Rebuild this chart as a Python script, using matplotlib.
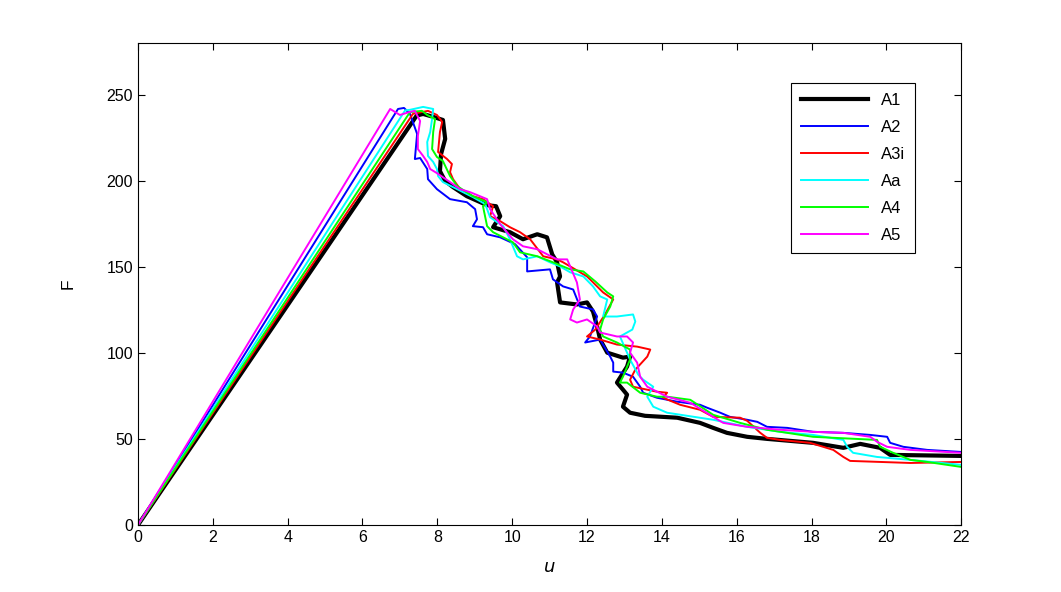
import matplotlib
matplotlib.use('Agg')
import matplotlib.pyplot as plt

plt.rcParams['font.family'] = ['Liberation Sans', 'DejaVu Sans']

# displacement u and force F for each specimen
u_A1 = [0, 7.45, 7.62, 7.89, 8.15, 8.21, 8.10, 8.07, 8.21, 8.42, 8.79, 9.33, 9.57, 9.68, 9.49,
        9.94, 10.29, 10.67, 10.93, 11.07, 11.20, 11.28, 11.20, 11.28, 11.73, 12.00, 12.16,
        12.27, 12.35, 12.54, 12.96, 13.15, 13.07, 12.80, 12.96, 13.07, 12.96, 13.15, 13.55,
        14.41, 15.02, 15.37, 15.74, 16.28, 16.81, 18.04, 18.85, 19.30, 19.83, 20.10, 22.0]
F_A1 = [0, 238, 238.9, 237.2, 235.4, 224.4, 215.6, 205.7, 199.9, 196.4, 191.1, 185.9, 185.3,
        179.5, 173.1, 170.2, 166.1, 169.0, 167.2, 157.3, 152.7, 144.5, 141.0, 129.4, 128.2,
        129.4, 124.1, 115.4, 107.8, 100.2, 97.3, 97.9, 92.1, 82.8, 78.7, 75.8, 68.8, 65.3,
        63.5, 62.4, 59.4, 56.5, 53.6, 51.3, 50.1, 47.8, 44.9, 47.2, 44.9, 40.8, 40.2]

u_A2 = [0, 6.95, 7.11, 7.27, 7.46, 7.40, 7.54, 7.73, 7.75, 7.99, 8.34, 8.79, 9.01, 9.06, 8.95,
        9.22, 9.33, 9.68, 10.08, 10.40, 10.40, 11.01, 11.09, 11.36, 11.63, 11.81, 12.16, 12.27,
        12.08, 11.95, 12.35, 12.62, 12.70, 12.70, 12.96, 13.23, 13.42, 13.50, 13.87, 14.41,
        15.02, 15.21, 15.56, 15.82, 16.28, 16.55, 16.81, 17.35, 18.04, 18.85, 19.57, 20.02,
        20.10, 20.45, 21.09, 22.0]
F_A2 = [0, 241.8, 242.4, 238.9, 227.3, 212.7, 213.3, 206.9, 201.0, 195.2, 189.4, 187.6, 183.6,
        177.7, 173.7, 173.1, 169.0, 167.2, 163.2, 155.6, 147.4, 148.6, 142.8, 138.7, 136.9,
        127.0, 125.3, 121.2, 109.6, 106.1, 107.8, 97.9, 94.4, 89.2, 88.6, 86.2, 80.4, 76.9,
        74.0, 71.7, 69.9, 68.2, 65.3, 62.9, 61.2, 60.0, 57.1, 56.5, 54.2, 53.6, 52.4, 51.3,
        47.8, 45.5, 43.7, 42.5]

u_A3i = [0, 7.35, 7.75, 7.99, 8.13, 8.07, 8.02, 8.26, 8.39, 8.34, 8.42, 8.61, 8.95, 9.22, 9.49,
         9.41, 9.68, 9.94, 10.21, 10.48, 10.83, 11.20, 11.36, 11.55, 12.00, 12.08, 12.43, 12.70,
         12.48, 12.22, 12.00, 12.35, 12.80, 13.34, 13.69, 13.61, 13.29, 13.15, 13.23, 13.87,
         14.14, 14.03, 14.49, 15.02, 15.37, 16.09, 16.28, 16.63, 16.81, 17.16, 17.96, 18.31,
         18.58, 18.85, 19.03, 20.64, 22.0]
F_A3i = [0, 239, 240.7, 238.3, 234.3, 228.4, 216.8, 212.7, 209.8, 205.1, 201.0, 195.2, 191.1,
         189.4, 185.3, 179.5, 176.6, 173.1, 170.2, 166.1, 156.2, 154.4, 152.7, 150.3, 144.5,
         142.8, 135.2, 131.1, 122.4, 113.6, 109.6, 107.8, 104.9, 103.7, 102.0, 97.9, 90.3,
         84.5, 80.4, 77.5, 76.9, 74.0, 69.9, 67.0, 62.9, 62.4, 60.6, 53.6, 50.7, 49.5, 47.8,
         45.5, 43.7, 39.6, 37.3, 36.1, 36.7]

u_Aa = [0, 7.14, 7.27, 7.62, 7.89, 7.86, 7.81, 7.73, 7.75, 7.89, 7.99, 8.02, 8.15, 8.53, 8.95,
        9.28, 9.41, 9.60, 9.76, 9.94, 10.13, 10.29, 10.67, 11.01, 11.28, 11.55, 11.90, 12.16,
        12.35, 12.54, 12.43, 12.80, 13.23, 13.29, 13.21, 12.88, 13.15, 13.37, 13.50, 13.77,
        13.61, 13.77, 14.14, 15.37, 16.28, 17.16, 18.04, 18.85, 18.95, 19.11, 19.75, 20.64, 22.0]
F_Aa = [0, 241, 241.3, 243.0, 241.8, 236.0, 228.4, 222.6, 214.5, 211.0, 206.9, 202.8, 199.3,
        195.2, 190.6, 186.5, 178.9, 176.0, 173.7, 166.1, 156.2, 154.4, 156.2, 152.7, 150.3,
        146.9, 144.5, 138.7, 132.9, 131.1, 121.2, 121.2, 122.4, 118.3, 113.6, 109.6, 96.2,
        87.4, 84.5, 80.4, 74.6, 68.8, 65.3, 61.2, 57.1, 54.2, 52.4, 49.5, 45.5, 42.0, 39.6,
        37.9, 35.0]

u_A4 = [0, 7.27, 7.59, 7.73, 7.94, 7.89, 7.86, 7.99, 8.15, 8.34, 8.53, 8.95, 9.33, 9.22, 9.33,
        9.49, 10.02, 10.21, 10.67, 11.09, 11.55, 11.90, 12.22, 12.54, 12.70, 12.62, 12.43,
        12.35, 12.43, 12.80, 13.15, 13.15, 12.96, 12.88, 13.07, 13.42, 13.87, 14.14, 14.76,
        15.37, 16.09, 16.81, 18.04, 19.75, 19.83, 20.18, 20.64, 21.09, 22.0]
F_A4 = [0, 240, 240.7, 238.3, 236.0, 228.4, 218.5, 213.9, 211.5, 202.8, 197.0, 191.1, 187.6,
        185.3, 173.7, 170.2, 164.3, 158.5, 156.2, 152.7, 148.6, 147.4, 141.6, 135.2, 132.9,
        127.0, 119.5, 113.6, 109.6, 106.1, 102.0, 96.2, 86.2, 82.8, 82.8, 76.9, 74.6, 74.6,
        72.8, 64.1, 59.4, 55.4, 51.3, 49.5, 45.5, 42.0, 37.9, 36.7, 33.8]

u_A5 = [0, 6.74, 7.00, 7.27, 7.40, 7.54, 7.48, 7.48, 7.62, 7.73, 7.81, 7.99, 8.34, 8.61, 8.87,
        9.14, 9.33, 9.41, 9.68, 10.02, 10.29, 10.67, 11.20, 11.47, 11.55, 11.73, 11.81, 11.63,
        11.55, 11.73, 12.00, 12.27, 12.35, 12.80, 13.07, 13.23, 13.15, 13.34, 13.42, 13.61,
        14.14, 14.76, 15.37, 15.64, 16.28, 17.16, 18.04, 18.85, 19.57, 19.75, 20.02, 20.64, 22.0]
F_A5 = [0, 241.8, 238.3, 240.1, 240.7, 234.8, 226.1, 218.5, 214.5, 211.0, 206.9, 204.5, 199.3,
        195.2, 193.5, 191.1, 189.4, 183.6, 174.8, 166.1, 162.0, 160.3, 154.4, 154.4, 150.3,
        141.0, 131.1, 125.3, 119.5, 117.7, 119.5, 115.4, 111.9, 109.6, 109.6, 106.1, 100.2,
        94.4, 86.2, 80.4, 74.6, 71.1, 62.9, 59.4, 57.1, 55.4, 54.2, 53.6, 51.3, 48.4, 45.5,
        43.7, 42.0]

fig = plt.figure(figsize=(10.61, 5.92), dpi=100)
ax = fig.add_axes([0.130, 0.113, 0.776, 0.814])

ax.plot(u_A1, F_A1, color='black', lw=3.0, label='A1')
ax.plot(u_A2, F_A2, color='blue', lw=1.4, label='A2')
ax.plot(u_A3i, F_A3i, color='red', lw=1.4, label='A3i')
ax.plot(u_Aa, F_Aa, color='cyan', lw=1.4, label='Aa')
ax.plot(u_A4, F_A4, color='lime', lw=1.4, label='A4')
ax.plot(u_A5, F_A5, color='magenta', lw=1.4, label='A5')

ax.set_xlim(0, 22)
ax.set_ylim(0, 280)
ax.set_xticks(range(0, 23, 2))
ax.set_yticks(range(0, 251, 50))
ax.tick_params(direction='in', top=True, right=True, labelsize=11.5, length=5, width=0.8)
for s in ax.spines.values():
    s.set_linewidth(0.8)

ax.set_xlabel('$u$', fontsize=13, labelpad=10)
ax.set_ylabel('F', fontsize=12.5, labelpad=22)

leg = ax.legend(loc='upper right', bbox_to_anchor=(0.954, 0.935), fontsize=12,
                handlelength=4.0, labelspacing=0.72, fancybox=False, framealpha=1,
                edgecolor='black', borderpad=0.6)
leg.get_frame().set_linewidth(0.8)

fig.savefig('out.png', dpi=100)
